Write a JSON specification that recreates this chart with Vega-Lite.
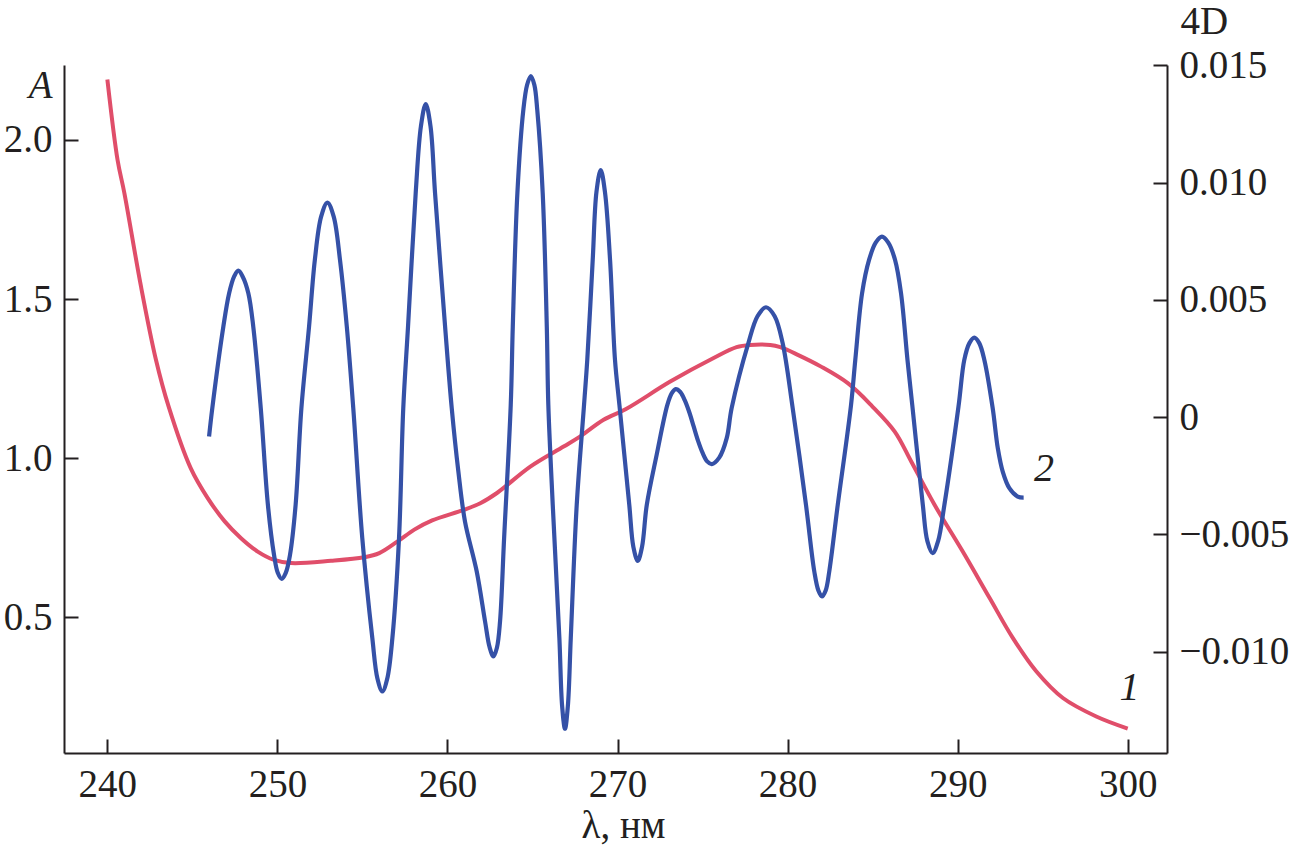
{
  "$schema": "https://vega.github.io/schema/vega-lite/v6.json",
  "width": 1103,
  "height": 688,
  "autosize": {"type": "none"},
  "padding": {"left": 64, "top": 65, "right": 135, "bottom": 100},
  "background": "white",
  "config": {
    "view": {"stroke": null},
    "font": "Liberation Serif",
    "axis": {
      "domainColor": "#231F20",
      "domainWidth": 2,
      "tickColor": "#231F20",
      "tickWidth": 2,
      "tickSize": -14,
      "labelPadding": 26,
      "labelFont": "Liberation Serif",
      "labelFontSize": 39,
      "labelColor": "#231F20",
      "labelFlush": false,
      "labelOverlap": false,
      "grid": false,
      "titleFont": "Liberation Serif",
      "titleFontSize": 39,
      "titleFontWeight": "normal",
      "titleColor": "#231F20"
    }
  },
  "datasets": {
    "curve1": [
      {"wl": 240.0, "A": 2.19}, {"wl": 240.6, "A": 1.937}, {"wl": 241.0, "A": 1.833},
      {"wl": 241.98, "A": 1.539}, {"wl": 242.86, "A": 1.309}, {"wl": 243.6, "A": 1.163},
      {"wl": 244.9, "A": 0.969}, {"wl": 245.9, "A": 0.875}, {"wl": 246.9, "A": 0.802},
      {"wl": 247.86, "A": 0.749}, {"wl": 248.84, "A": 0.707}, {"wl": 249.8, "A": 0.681},
      {"wl": 250.8, "A": 0.671}, {"wl": 253.15, "A": 0.678}, {"wl": 255.1, "A": 0.689},
      {"wl": 255.99, "A": 0.702}, {"wl": 257.07, "A": 0.739}, {"wl": 258.05, "A": 0.776},
      {"wl": 259.1, "A": 0.805}, {"wl": 260.95, "A": 0.838}, {"wl": 261.93, "A": 0.859},
      {"wl": 262.91, "A": 0.891}, {"wl": 264.87, "A": 0.974}, {"wl": 266.83, "A": 1.037},
      {"wl": 267.81, "A": 1.069}, {"wl": 269.18, "A": 1.121}, {"wl": 270.5, "A": 1.155},
      {"wl": 273.1, "A": 1.241}, {"wl": 275.65, "A": 1.315}, {"wl": 277.0, "A": 1.349},
      {"wl": 277.8, "A": 1.356}, {"wl": 278.98, "A": 1.356}, {"wl": 279.57, "A": 1.349},
      {"wl": 280.6, "A": 1.325}, {"wl": 281.97, "A": 1.288}, {"wl": 283.54, "A": 1.236},
      {"wl": 284.95, "A": 1.165}, {"wl": 286.3, "A": 1.084}, {"wl": 287.27, "A": 0.99},
      {"wl": 288.64, "A": 0.854}, {"wl": 290.3, "A": 0.707}, {"wl": 291.88, "A": 0.561},
      {"wl": 293.25, "A": 0.435}, {"wl": 294.62, "A": 0.331}, {"wl": 296.19, "A": 0.247},
      {"wl": 298.15, "A": 0.189}, {"wl": 300.0, "A": 0.151}
    ],
    "curve2": [
      {"wl": 245.98, "D": -0.000827}, {"wl": 246.17, "D": 0.000384}, {"wl": 246.82, "D": 0.003862},
      {"wl": 247.16, "D": 0.005286}, {"wl": 247.45, "D": 0.005993}, {"wl": 247.70, "D": 0.006249},
      {"wl": 247.96, "D": 0.005993}, {"wl": 248.29, "D": 0.005286}, {"wl": 248.58, "D": 0.003862},
      {"wl": 249.02, "D": 0.000384}, {"wl": 249.44, "D": -0.003738}, {"wl": 249.80, "D": -0.00587},
      {"wl": 250.02, "D": -0.006637}, {"wl": 250.25, "D": -0.006893}, {"wl": 250.49, "D": -0.006637},
      {"wl": 250.74, "D": -0.00587}, {"wl": 251.07, "D": -0.003738}, {"wl": 251.41, "D": 0.000384},
      {"wl": 251.86, "D": 0.003862}, {"wl": 252.20, "D": 0.006705}, {"wl": 252.57, "D": 0.008551},
      {"wl": 252.94, "D": 0.009148}, {"wl": 253.31, "D": 0.008551}, {"wl": 253.68, "D": 0.006705},
      {"wl": 254.08, "D": 0.003862}, {"wl": 254.46, "D": 0.000384}, {"wl": 254.99, "D": -0.005158},
      {"wl": 255.58, "D": -0.00942}, {"wl": 255.88, "D": -0.011142}, {"wl": 256.17, "D": -0.011697},
      {"wl": 256.46, "D": -0.011142}, {"wl": 256.76, "D": -0.00942}, {"wl": 257.15, "D": -0.005158},
      {"wl": 257.40, "D": 0.000384}, {"wl": 257.68, "D": 0.003862}, {"wl": 258.13, "D": 0.009548},
      {"wl": 258.44, "D": 0.012417}, {"wl": 258.72, "D": 0.013355}, {"wl": 259.00, "D": 0.012417},
      {"wl": 259.27, "D": 0.009548}, {"wl": 259.86, "D": 0.003862}, {"wl": 260.25, "D": 0.000384},
      {"wl": 260.64, "D": -0.002319}, {"wl": 261.03, "D": -0.00445}, {"wl": 261.72, "D": -0.006581},
      {"wl": 262.21, "D": -0.008713}, {"wl": 262.48, "D": -0.009821}, {"wl": 262.70, "D": -0.010205},
      {"wl": 262.91, "D": -0.009821}, {"wl": 263.09, "D": -0.008713}, {"wl": 263.33, "D": -0.005158},
      {"wl": 263.72, "D": 0.000524}, {"wl": 263.84, "D": 0.003862}, {"wl": 264.11, "D": 0.009548},
      {"wl": 264.46, "D": 0.013099}, {"wl": 264.68, "D": 0.014165}, {"wl": 264.90, "D": 0.014548},
      {"wl": 265.11, "D": 0.014165}, {"wl": 265.28, "D": 0.013099}, {"wl": 265.60, "D": 0.009548},
      {"wl": 265.84, "D": 0.003862}, {"wl": 265.93, "D": 0.000524}, {"wl": 266.19, "D": -0.003738},
      {"wl": 266.58, "D": -0.00942}, {"wl": 266.74, "D": -0.012306}, {"wl": 266.91, "D": -0.013287},
      {"wl": 267.08, "D": -0.012306}, {"wl": 267.25, "D": -0.00942}, {"wl": 267.60, "D": -0.003738},
      {"wl": 268.03, "D": 0.000524}, {"wl": 268.22, "D": 0.002442}, {"wl": 268.54, "D": 0.006705},
      {"wl": 268.76, "D": 0.009604}, {"wl": 269.01, "D": 0.010541}, {"wl": 269.26, "D": 0.009604},
      {"wl": 269.56, "D": 0.006705}, {"wl": 269.85, "D": 0.002442}, {"wl": 270.11, "D": 0.000524},
      {"wl": 270.69, "D": -0.003738}, {"wl": 270.93, "D": -0.005529}, {"wl": 271.19, "D": -0.006125},
      {"wl": 271.44, "D": -0.005529}, {"wl": 271.72, "D": -0.003738}, {"wl": 272.30, "D": -0.001607},
      {"wl": 272.93, "D": 0.000524}, {"wl": 273.19, "D": 0.001023}, {"wl": 273.42, "D": 0.001194},
      {"wl": 273.69, "D": 0.001074}, {"wl": 273.95, "D": 0.000725}, {"wl": 274.22, "D": 0.000209},
      {"wl": 274.48, "D": -0.000405}, {"wl": 274.74, "D": -0.001019}, {"wl": 275.01, "D": -0.001535},
      {"wl": 275.27, "D": -0.001884}, {"wl": 275.54, "D": -0.002003}, {"wl": 275.98, "D": -0.001726},
      {"wl": 276.42, "D": -0.000895}, {"wl": 276.71, "D": 0.000384}, {"wl": 277.69, "D": 0.003154},
      {"wl": 278.23, "D": 0.004305}, {"wl": 278.73, "D": 0.004689}, {"wl": 279.24, "D": 0.004305},
      {"wl": 279.71, "D": 0.003154}, {"wl": 280.30, "D": 0.000384}, {"wl": 281.08, "D": -0.003738},
      {"wl": 281.57, "D": -0.006581}, {"wl": 281.81, "D": -0.007391}, {"wl": 282.02, "D": -0.007647},
      {"wl": 282.24, "D": -0.007391}, {"wl": 282.45, "D": -0.006581}, {"wl": 282.95, "D": -0.003738},
      {"wl": 283.73, "D": 0.000524}, {"wl": 283.98, "D": 0.002442}, {"wl": 284.38, "D": 0.005286},
      {"wl": 284.79, "D": 0.006705}, {"wl": 285.18, "D": 0.007443}, {"wl": 285.55, "D": 0.007698},
      {"wl": 285.92, "D": 0.007443}, {"wl": 286.32, "D": 0.006705}, {"wl": 286.67, "D": 0.005286},
      {"wl": 287.05, "D": 0.002442}, {"wl": 287.33, "D": 0.000524}, {"wl": 287.95, "D": -0.003738},
      {"wl": 288.22, "D": -0.005286}, {"wl": 288.53, "D": -0.005797}, {"wl": 288.85, "D": -0.005286},
      {"wl": 289.22, "D": -0.003738}, {"wl": 290.05, "D": 0.00046}, {"wl": 290.39, "D": 0.002442},
      {"wl": 290.69, "D": 0.003159}, {"wl": 290.98, "D": 0.003393}, {"wl": 291.27, "D": 0.003159},
      {"wl": 291.57, "D": 0.002442}, {"wl": 292.06, "D": 0.000384}, {"wl": 292.36, "D": -0.001321},
      {"wl": 292.65, "D": -0.002319}, {"wl": 293.04, "D": -0.003026}, {"wl": 293.53, "D": -0.003384},
      {"wl": 293.88, "D": -0.003427}
    ],
    "label1": [{"wl": 300.1, "A": 0.279, "t": "1"}],
    "label2": [{"wl": 295.08, "D": -0.0022, "t": "2"}]
  },
  "layer": [
    {
      "layer": [
        {
          "data": {"name": "curve1"},
          "mark": {"type": "line", "color": "#E04E6A", "strokeWidth": 4, "interpolate": "catmull-rom"},
          "encoding": {
            "x": {
              "field": "wl", "type": "quantitative",
              "scale": {"domain": [237.45, 302.31], "nice": false, "zero": false},
              "axis": {
                "values": [240, 250, 260, 270, 280, 290, 300],
                "format": "d",
                "title": "λ, нм",
                "titleX": 559,
                "titleY": 84,
                "titleAlign": "center",
                "titleAnchor": null,
                "titleBaseline": "alphabetic"
              }
            },
            "y": {
              "field": "A", "type": "quantitative",
              "scale": {"domain": [0.0743, 2.2355], "nice": false, "zero": false},
              "axis": {
                "orient": "left",
                "values": [0.5, 1.0, 1.5, 2.0],
                "format": ".1f",
                "title": "A",
                "titleFontStyle": "italic",
                "titleAngle": 0,
                "titleX": -12,
                "titleY": 32,
                "titleAlign": "right",
                "titleBaseline": "alphabetic"
              }
            }
          }
        },
        {
          "data": {"name": "label1"},
          "mark": {"type": "text", "font": "Liberation Serif", "fontSize": 40, "fontStyle": "italic", "color": "#231F20", "align": "center", "baseline": "middle"},
          "encoding": {
            "x": {"field": "wl", "type": "quantitative"},
            "y": {"field": "A", "type": "quantitative"},
            "text": {"field": "t"}
          }
        }
      ]
    },
    {
      "layer": [
        {
          "data": {"name": "curve2"},
          "mark": {"type": "line", "color": "#3551A7", "strokeWidth": 4.2, "interpolate": "catmull-rom"},
          "encoding": {
            "x": {"field": "wl", "type": "quantitative"},
            "y": {
              "field": "D", "type": "quantitative",
              "scale": {"domain": [-0.014322, 0.01502], "nice": false, "zero": false},
              "axis": {
                "orient": "right",
                "values": [-0.01, -0.005, 0, 0.005, 0.01, 0.015],
                "labelExpr": "datum.value == 0 ? '0' : replace(format(datum.value, '.3f'), '-', '−')",
                "title": "4D",
                "titleAngle": 0,
                "titleX": 13,
                "titleY": -32,
                "titleAlign": "left",
                "titleBaseline": "alphabetic"
              }
            }
          }
        },
        {
          "data": {"name": "label2"},
          "mark": {"type": "text", "font": "Liberation Serif", "fontSize": 40, "fontStyle": "italic", "color": "#231F20", "align": "center", "baseline": "middle"},
          "encoding": {
            "x": {"field": "wl", "type": "quantitative"},
            "y": {"field": "D", "type": "quantitative"},
            "text": {"field": "t"}
          }
        }
      ]
    }
  ],
  "resolve": {"scale": {"y": "independent"}, "axis": {"y": "independent"}}
}
